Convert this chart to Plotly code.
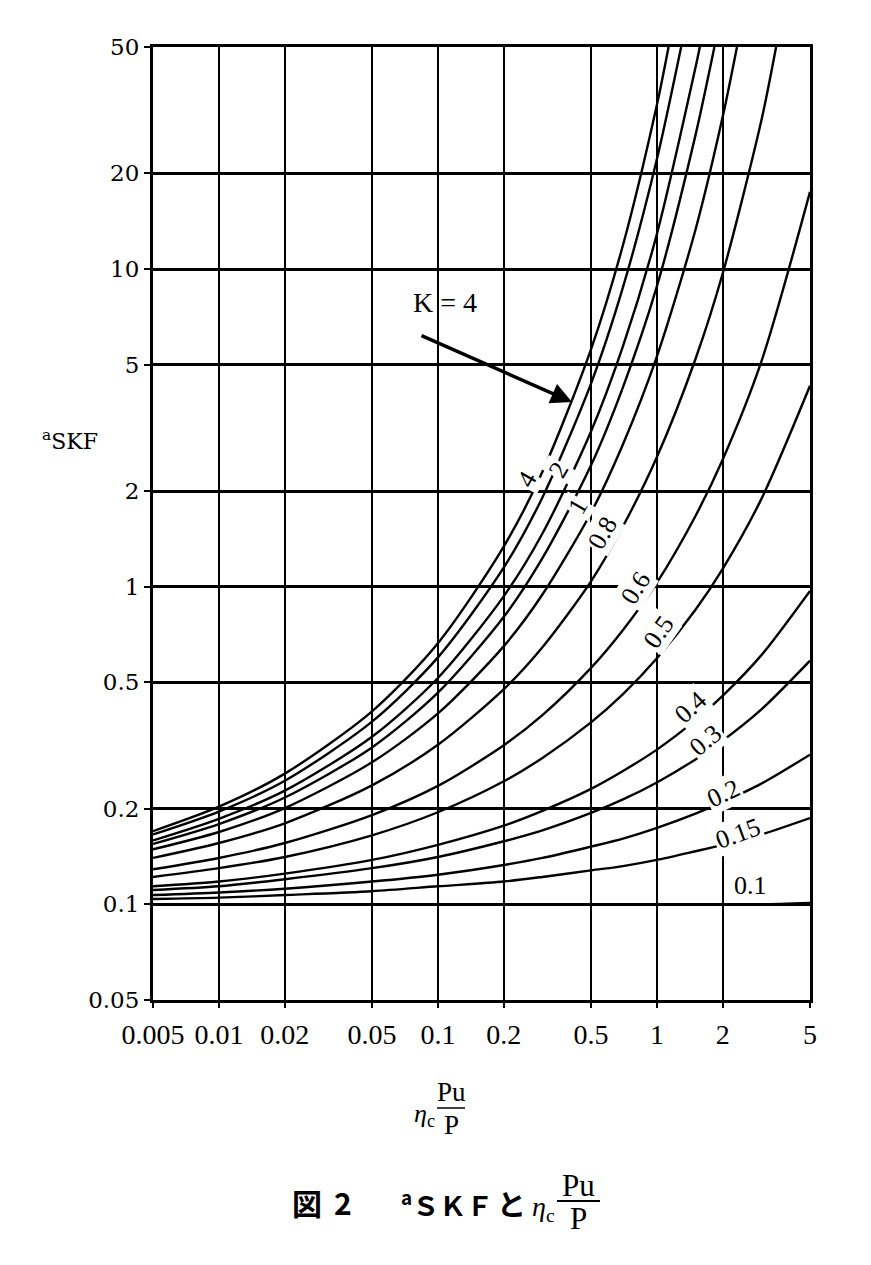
import plotly.graph_objects as go

# ---- data ----
X = [0.005, 0.01, 0.02, 0.05, 0.1, 0.2, 0.3, 0.5, 0.7, 1, 1.5, 2, 3, 5]

K_labels = ["0.1", "0.15", "0.2", "0.3", "0.4", "0.5", "0.6", "0.8", "1", "1.5", "2", "3", "4"]

y_k01 = [0.100, 0.100, 0.100, 0.100, 0.100, 0.100, 0.100, 0.100, 0.100, 0.100, 0.100, 0.100, 0.100, 0.101]
y_k015 = [0.104, 0.105, 0.107, 0.110, 0.114, 0.118, 0.122, 0.128, 0.132, 0.138, 0.147, 0.154, 0.166, 0.187]
y_k02 = [0.107, 0.109, 0.112, 0.118, 0.124, 0.133, 0.140, 0.152, 0.161, 0.174, 0.193, 0.210, 0.240, 0.296]
y_k03 = [0.111, 0.114, 0.120, 0.130, 0.141, 0.158, 0.171, 0.194, 0.214, 0.242, 0.286, 0.328, 0.411, 0.585]
y_k04 = [0.114, 0.118, 0.125, 0.138, 0.154, 0.177, 0.197, 0.231, 0.263, 0.307, 0.380, 0.454, 0.609, 0.970]
y_k05 = [0.122, 0.130, 0.141, 0.165, 0.195, 0.244, 0.289, 0.374, 0.459, 0.595, 0.846, 1.14, 1.89, 4.29]
y_k06 = [0.129, 0.140, 0.156, 0.191, 0.236, 0.317, 0.394, 0.555, 0.731, 1.03, 1.67, 2.52, 5.12, 17.5]

x_k08 = [0.005, 0.01, 0.02, 0.05, 0.1, 0.2, 0.3, 0.5, 0.7, 1, 1.5, 2, 3, 3.5]
y_k08 = [0.140, 0.156, 0.180, 0.237, 0.318, 0.476, 0.645, 1.04, 1.55, 2.56, 5.21, 9.72, 29.4, 50]
x_k1 = [0.005, 0.01, 0.02, 0.05, 0.1, 0.2, 0.3, 0.5, 0.7, 1, 1.5, 2, 2.32]
y_k1 = [0.149, 0.169, 0.201, 0.280, 0.399, 0.650, 0.945, 1.71, 2.81, 5.31, 13.3, 30.3, 50]
x_k15 = [0.005, 0.01, 0.02, 0.05, 0.1, 0.2, 0.3, 0.5, 0.7, 1, 1.5, 1.83]
y_k15 = [0.155, 0.179, 0.217, 0.312, 0.464, 0.804, 1.23, 2.41, 4.25, 8.83, 26.4, 50]
x_k2 = [0.005, 0.01, 0.02, 0.05, 0.1, 0.2, 0.3, 0.5, 0.7, 1, 1.5, 1.57]
y_k2 = [0.159, 0.186, 0.228, 0.337, 0.516, 0.934, 1.47, 3.08, 5.72, 12.9, 43.1, 50]
x_k3 = [0.005, 0.01, 0.02, 0.05, 0.1, 0.2, 0.3, 0.5, 0.7, 1, 1.29]
y_k3 = [0.166, 0.196, 0.245, 0.376, 0.599, 1.15, 1.91, 4.36, 8.77, 22.2, 50]
x_k4 = [0.005, 0.01, 0.02, 0.05, 0.1, 0.2, 0.3, 0.5, 0.7, 1, 1.13]
y_k4 = [0.170, 0.203, 0.258, 0.405, 0.664, 1.34, 2.30, 5.59, 11.9, 32.9, 50]

x_tickvals = [0.005, 0.01, 0.02, 0.05, 0.1, 0.2, 0.5, 1, 2, 5]
x_ticktext = ["0.005", "0.01", "0.02", "0.05", "0.1", "0.2", "0.5", "1", "2", "5"]
y_tickvals = [0.05, 0.1, 0.2, 0.5, 1, 2, 5, 10, 20, 50]
y_ticktext = ["0.05", "0.1", "0.2", "0.5", "1", "2", "5", "10", "20", "50"]

series = [
    (X, y_k01), (X, y_k015), (X, y_k02), (X, y_k03), (X, y_k04), (X, y_k05), (X, y_k06),
    (x_k08, y_k08), (x_k1, y_k1), (x_k15, y_k15), (x_k2, y_k2), (x_k3, y_k3), (x_k4, y_k4),
]

# ---- layout geometry (pixels) ----
W, H = 871, 1265
L, R, T, B = 153, 810, 47, 1000


def px(xp):
    return (xp - L) / (R - L)


def py(yp):
    return (B - yp) / (B - T)


SERIF = "Liberation Serif, DejaVu Serif, serif"
WIDE = "DejaVu Serif, Liberation Serif, serif"
BOLD = "Noto Sans CJK JP, Noto Sans, sans-serif"

fig = go.Figure()
for (xs, ys), k in zip(series, K_labels):
    fig.add_trace(go.Scatter(
        x=xs, y=ys, mode="lines", name="K=" + k,
        line=dict(color="black", width=2.4, shape="spline", smoothing=0.8),
        hoverinfo="x+y+name", cliponaxis=True,
    ))

annotations = []


def label(text, xp, yp, family, size, angle=0, bg=None):
    d = dict(
        text=text, x=px(xp), y=py(yp), xref="paper", yref="paper",
        xanchor="center", yanchor="middle", showarrow=False, textangle=angle,
        font=dict(family=family, size=size, color="black"),
    )
    if bg:
        d["bgcolor"] = bg
        d["borderpad"] = 1
    return d


# curve labels (center pixel, rotation)
curve_labels = [
    ("4", 527, 480, -60),
    ("2", 558, 470, -60),
    ("1", 578, 507, -60),
    ("0.8", 602, 533, -60),
    ("0.6", 635, 588, -58),
    ("0.5", 658, 632, -55),
    ("0.4", 690, 707, -42),
    ("0.3", 705, 740, -40),
    ("0.2", 723, 793, -25),
    ("0.15", 738, 833, -20),
    ("0.1", 750, 885, 0),
]
for txt, xp, yp, ang in curve_labels:
    annotations.append(label(txt, xp, yp, SERIF, 26, ang, bg="white"))

# K=4 label and arrow
annotations.append(label("K = 4", 445, 302, SERIF, 28))
annotations.append(dict(
    text="", x=px(572), y=py(402), xref="paper", yref="paper",
    showarrow=True, ax=420 - 572, ay=335 - 402, axref="pixel", ayref="pixel",
    arrowhead=2, arrowsize=1.2, arrowwidth=3.5, arrowcolor="black",
))

# y-axis title
annotations.append(label("<sup>a</sup>SKF", 70, 440, WIDE, 22))

# x-axis title: eta_c Pu / P
annotations += [
    label("<i>η</i><sub>c</sub>", 424, 1115, SERIF, 26),
    label("Pu", 451, 1092, SERIF, 27),
    label("P", 451, 1125, SERIF, 27),
]

# caption
annotations += [
    label("<b>図</b>", 307, 1202, BOLD, 30),
    label("<b>2</b>", 343, 1202, BOLD, 30),
    label("<b><sup>a</sup>ＳＫＦ</b>", 447, 1203, BOLD, 27),
    label("<b>と</b>", 511, 1203, BOLD, 29),
    label("<i>η</i><sub>c</sub>", 543, 1208, SERIF, 28),
    label("Pu", 578, 1185, SERIF, 31),
    label("P", 578, 1218, SERIF, 31),
]

shapes = [
    dict(type="line", xref="paper", yref="paper", x0=px(437), x1=px(465),
         y0=py(1108), y1=py(1108), line=dict(color="black", width=1.5)),
    dict(type="line", xref="paper", yref="paper", x0=px(557), x1=px(600),
         y0=py(1201), y1=py(1201), line=dict(color="black", width=2)),
]

fig.update_layout(
    width=W, height=H,
    margin=dict(l=L, r=W - R, t=T, b=H - B, pad=0),
    paper_bgcolor="white", plot_bgcolor="white",
    showlegend=False,
    annotations=annotations, shapes=shapes,
    xaxis=dict(
        type="log", range=[-2.30103, 0.69897],
        tickmode="array", tickvals=x_tickvals, ticktext=x_ticktext,
        showgrid=True, gridcolor="black", gridwidth=2,
        showline=True, linecolor="black", linewidth=3, mirror=True,
        ticks="outside", ticklen=5, tickcolor="black", tickwidth=2,
        tickfont=dict(family=SERIF, size=28, color="black"),
        ticklabelstandoff=2, zeroline=False,
    ),
    yaxis=dict(
        type="log", range=[-1.30103, 1.69897],
        tickmode="array", tickvals=y_tickvals, ticktext=y_ticktext,
        showgrid=True, gridcolor="black", gridwidth=3,
        showline=True, linecolor="black", linewidth=3, mirror=True,
        ticks="outside", ticklen=6, tickcolor="black", tickwidth=2,
        tickfont=dict(family=WIDE, size=23, color="black"),
        zeroline=False,
    ),
)

fig.write_html("out.html")
